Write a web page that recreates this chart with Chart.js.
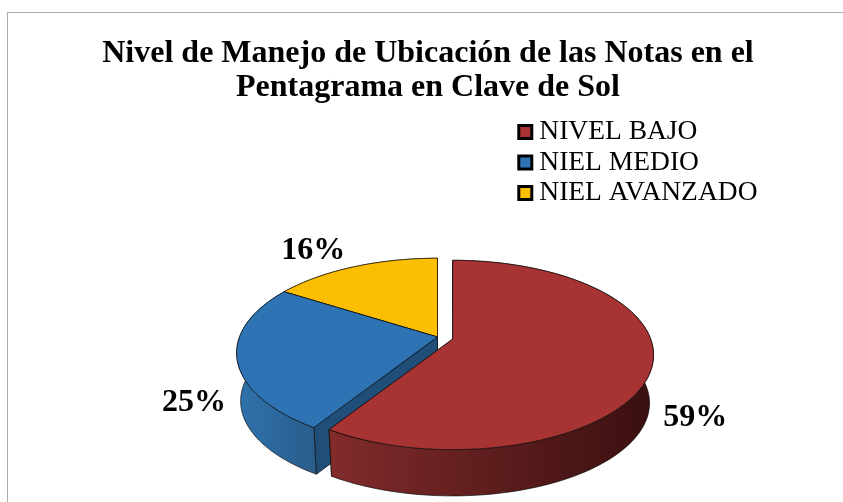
<!DOCTYPE html>
<html><head><meta charset="utf-8">
<style>html,body{margin:0;padding:0;background:#fff}#w{width:843px;height:502px;position:relative}canvas{display:block}</style>
<script src="https://cdn.jsdelivr.net/npm/chart.js@4"></script>
</head><body><div id="w"><canvas id="c" width="843" height="502"></canvas></div>
<script>
const categories = ['NIVEL BAJO', 'NIEL MEDIO', 'NIEL AVANZADO'];
const values = [59, 25, 16];
const titleLines = ['Nivel de Manejo de Ubicación de las Notas en el', 'Pentagrama en Clave de Sol'];
const faceColors = ['#A83333', '#2E74B5', '#FBBE00'];
const wallLight = ['#822B2B', '#2F72AD', '#B88C00'];
const wallDark = ['#3A0F0F', '#2A5D8C', '#8A6900'];
const radialWall = ['#5A1A1A', '#1F4E79', '#8A6900'];
const explode = [53, 0, 0];
const labelNudge = [[43, 52], [-43, 45], [-41, -16]];

const view = {cx: 437.5, cy: 337, b: 198, a: 92, k: 0.168, depth: 48.5, shrink: 0.98};
function project(u, v, bottom) {
  const s = 1 - view.k * v, f = bottom ? view.shrink : 1;
  return [view.cx + f * view.b * u / s, view.cy + f * view.a * v / s + (bottom ? view.depth : 0)];
}
function unitAt(angle, r) { return [Math.cos(angle) * r, Math.sin(angle) * r]; }

class Arc3D extends Chart.ArcElement {
  geometry() {
    const R = this.outerRadius, mid = (this.startAngle + this.endAngle) / 2;
    const off = (this.options.offset || 0) / 4 / R;
    const d = project(Math.cos(mid) * off, Math.sin(mid) * off, false);
    return {dx: d[0] - view.cx, dy: d[1] - view.cy, mid};
  }
  rim(bottom) {
    const g = this.geometry(), pts = [], n = 90;
    for (let i = 0; i <= n; i++) {
      const t = this.startAngle + (this.endAngle - this.startAngle) * i / n;
      const [u, v] = unitAt(t, 1), p = project(u, v, bottom);
      pts.push([p[0] + g.dx, p[1] + g.dy]);
    }
    return pts;
  }
  apex(bottom) {
    const g = this.geometry(), p = project(0, 0, bottom);
    return [p[0] + g.dx, p[1] + g.dy];
  }
  draw(ctx) {
    const i = this.$context.index;
    const top = this.rim(false), bot = this.rim(true), a0 = this.apex(false), a1 = this.apex(true);
    ctx.save();
    ctx.lineJoin = 'round';
    ctx.strokeStyle = 'rgba(10,10,10,.85)';
    ctx.lineWidth = 0.8;
    [top.length - 1, 0].forEach(e => {
      ctx.beginPath();
      ctx.moveTo(a0[0], a0[1]); ctx.lineTo(top[e][0], top[e][1]);
      ctx.lineTo(bot[e][0], bot[e][1]); ctx.lineTo(a1[0], a1[1]); ctx.closePath();
      ctx.fillStyle = radialWall[i]; ctx.fill(); ctx.stroke();
    });
    const front = top.filter(p => p[1] > a0[1] - 5).map(p => p[0]);
    const xs = front.length > 1 ? front : top.map(p => p[0]);
    const grad = ctx.createLinearGradient(Math.min(...xs), 0, Math.max(...xs), 0);
    grad.addColorStop(0, wallLight[i]); grad.addColorStop(1, wallDark[i]);
    ctx.beginPath();
    top.forEach((p, k) => k ? ctx.lineTo(p[0], p[1]) : ctx.moveTo(p[0], p[1]));
    bot.slice().reverse().forEach(p => ctx.lineTo(p[0], p[1]));
    ctx.closePath();
    ctx.fillStyle = grad; ctx.fill(); ctx.stroke();
    ctx.beginPath();
    ctx.moveTo(a0[0], a0[1]);
    top.forEach(p => ctx.lineTo(p[0], p[1]));
    ctx.closePath();
    ctx.fillStyle = faceColors[i]; ctx.fill(); ctx.stroke();
    ctx.restore();
  }
}
Arc3D.id = 'arc3d';
Arc3D.defaults = {};

class Pie3D extends Chart.PieController {
  draw() {
    const ctx = this.chart.ctx, area = this.chart.chartArea, els = this.getMeta().data;
    for (let i = els.length - 1; i >= 0; i--) els[i].draw(ctx, area);
  }
}
Pie3D.id = 'pie3d';
Pie3D.defaults = {dataElementType: 'arc3d'};
Chart.register(Arc3D, Pie3D);

const framePlugin = {
  id: 'frame',
  beforeDraw(chart) {
    // legend markers overhang the legend box: draw the legend without its clip
    const lg = chart.legend;
    if (lg && lg._draw) lg.draw = function () { lg._draw(); };
    const c = chart.ctx;
    c.save(); c.strokeStyle = '#ABABAB'; c.lineWidth = 1;
    c.beginPath(); c.moveTo(7.5, 502); c.lineTo(7.5, 12.5); c.lineTo(843, 12.5); c.stroke();
    c.restore();
  }
};
const percentPlugin = {
  id: 'percent',
  afterDatasetsDraw(chart) {
    const c = chart.ctx, els = chart.getDatasetMeta(0).data;
    c.save();
    c.font = 'bold 32px "Liberation Serif"';
    c.fillStyle = '#000'; c.textAlign = 'center'; c.textBaseline = 'middle';
    els.forEach((el, i) => {
      const g = el.geometry(), [u, v] = unitAt(g.mid, 1), p = project(u, v, false);
      c.fillText(values[i] + '%', p[0] + g.dx + labelNudge[i][0], p[1] + g.dy + labelNudge[i][1]);
    });
    c.restore();
  }
};

new Chart(document.getElementById('c'), {
  type: 'pie3d',
  data: {labels: categories, datasets: [{data: values, backgroundColor: faceColors, borderColor: '#000', borderWidth: 1, offset: explode}]},
  plugins: [framePlugin, percentPlugin],
  options: {
    responsive: false,
    animation: false,
    layout: {padding: {left: 88.5, right: 75.5, top: 0, bottom: 0}},
    plugins: {
      tooltip: {enabled: false},
      title: {display: true, text: titleLines, color: '#000',
        font: {family: '"Liberation Serif"', size: 32, weight: 'bold', lineHeight: 1.06},
        padding: {top: 37, bottom: 10.5}},
      legend: {
        position: 'right', align: 'start', fullSize: false,
        labels: {
          usePointStyle: true, boxWidth: 0.5, boxHeight: 13, padding: 3,
          color: '#000', font: {family: '"Liberation Serif"', size: 27.5},
          generateLabels: chart => categories.map((t, i) => ({
            text: t, fillStyle: faceColors[i], strokeStyle: '#000', lineWidth: 3,
            pointStyle: 'rect', index: i, hidden: false, fontColor: '#000'
          }))
        }
      }
    }
  }
});
</script></body></html>
